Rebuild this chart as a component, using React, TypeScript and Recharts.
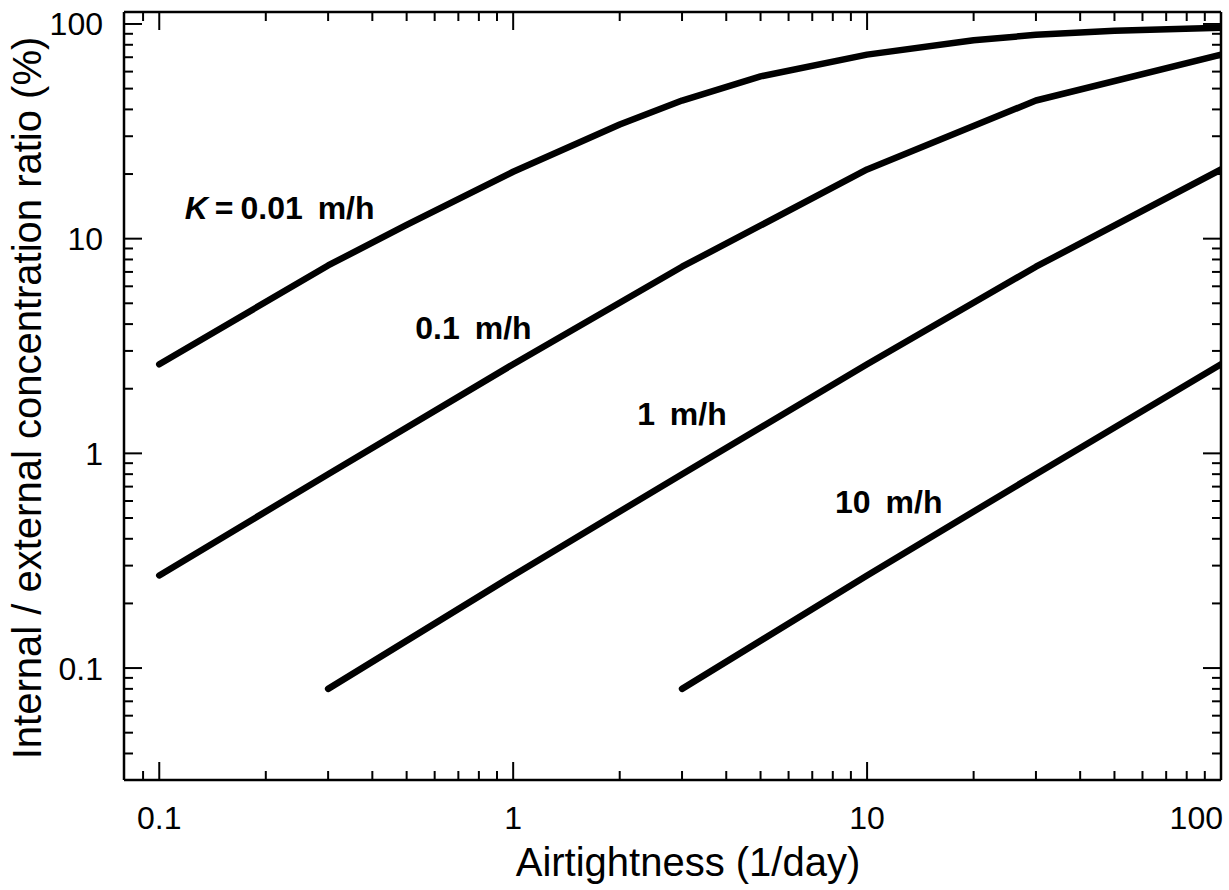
import { LineChart, Line, XAxis, YAxis, ReferenceDot } from "recharts";

// Airtightness (1/day) and internal/external ratio (%)
const airtightnessK001 = [0.1, 0.3, 0.5, 1, 2, 3, 5, 10, 20, 30, 50, 100];
const ratioK001 = [2.6, 7.5, 11.6, 20.5, 34, 44, 57, 72, 84, 89, 93, 96];
const airtightness = [0.1, 0.3, 1, 3, 10, 30, 100];
const ratioK01 = [0.27, 0.8, 2.6, 7.4, 21, 44, 72];
const airtightnessK1 = [0.3, 1, 3, 10, 30, 100];
const ratioK1 = [0.08, 0.27, 0.8, 2.6, 7.4, 21];
const airtightnessK10 = [3, 10, 30, 100];
const ratioK10 = [0.08, 0.27, 0.8, 2.6];

const xMajorTicks = [0.1, 1, 10, 100];
const xMinorTicks = [
  0.09, 0.2, 0.3, 0.4, 0.5, 0.6, 0.7, 0.8, 0.9,
  2, 3, 4, 5, 6, 7, 8, 9,
  20, 30, 40, 50, 60, 70, 80, 90,
];
const yMajorTicks = [0.1, 1, 10, 100];
const yMinorTicks = [
  0.04, 0.05, 0.06, 0.07, 0.08, 0.09,
  0.2, 0.3, 0.4, 0.5, 0.6, 0.7, 0.8, 0.9,
  2, 3, 4, 5, 6, 7, 8, 9,
  20, 30, 40, 50, 60, 70, 80, 90,
];

// curve annotations (anchor = left end of text baseline, in data coords)
const curveLabels = [
  { x: 0.118, y: 12.4, text: "0.01 m/h", withK: true },
  { x: 0.529, y: 3.4, text: "0.1 m/h", withK: false },
  { x: 2.24, y: 1.35, text: "1 m/h", withK: false },
  { x: 8.12, y: 0.525, text: "10 m/h", withK: false },
];

const X_DOMAIN = [0.0795, 100];
const Y_DOMAIN = [0.0301, 113.7];
const FONT = '"Liberation Sans", Arial, Helvetica, sans-serif';

const toPoints = (xs: number[], ys: number[]) => xs.map((x, i) => ({ x, y: ys[i] }));

const series = [
  { key: "k001", data: toPoints(airtightnessK001, ratioK001) },
  { key: "k01", data: toPoints(airtightness, ratioK01) },
  { key: "k1", data: toPoints(airtightnessK1, ratioK1) },
  { key: "k10", data: toPoints(airtightnessK10, ratioK10) },
];

const allXTicks = [...xMajorTicks, ...xMinorTicks].sort((a, b) => a - b);
const allYTicks = [...yMajorTicks, ...yMinorTicks].sort((a, b) => a - b);

const BottomTick = (props: any) => {
  const { x, y, payload } = props;
  const v = payload.value;
  const major = xMajorTicks.includes(v);
  const last = v === 100;
  return (
    <g>
      <line x1={x} y1={y} x2={x} y2={y - (major ? 18 : 9)} stroke="#000" strokeWidth={2} />
      {major && (
        <text
          x={last ? x + 2 : x}
          y={y + 49}
          textAnchor={last ? "end" : "middle"}
          fontSize={32}
          fontFamily={FONT}
          fill="#000"
        >
          {v}
        </text>
      )}
    </g>
  );
};

const TopTick = (props: any) => {
  const { x, y, payload } = props;
  const major = xMajorTicks.includes(payload.value);
  return <line x1={x} y1={y} x2={x} y2={y + (major ? 18 : 9)} stroke="#000" strokeWidth={2} />;
};

const LeftTick = (props: any) => {
  const { x, y, payload } = props;
  const v = payload.value;
  const major = yMajorTicks.includes(v);
  return (
    <g>
      <line x1={x} y1={y} x2={x + (major ? 18 : 9)} y2={y} stroke="#000" strokeWidth={2} />
      {major && (
        <text x={x - 21} y={y + 11.5} textAnchor="end" fontSize={32} fontFamily={FONT} fill="#000">
          {v}
        </text>
      )}
    </g>
  );
};

const RightTick = (props: any) => {
  const { x, y, payload } = props;
  const major = yMajorTicks.includes(payload.value);
  return <line x1={x} y1={y} x2={x - (major ? 18 : 9)} y2={y} stroke="#000" strokeWidth={2} />;
};

const axisLine = { stroke: "#000", strokeWidth: 2.5 };

export default function App() {
  return (
    <div style={{ position: "absolute", left: 0, top: 0, background: "#fff" }}>
      <LineChart width={1229} height={890} margin={{ top: 0, right: 0, bottom: 0, left: 0 }}>
        <XAxis
          xAxisId="b"
          dataKey="x"
          type="number"
          scale="log"
          domain={X_DOMAIN}
          allowDataOverflow
          ticks={allXTicks}
          interval={0}
          height={110}
          tickSize={0}
          tickMargin={0}
          tickLine={false}
          axisLine={axisLine}
          tick={<BottomTick />}
          label={{
            content: () => (
              <text x={688} y={876} textAnchor="middle" fontSize={40} fontFamily={FONT} fill="#000">
                Airtightness (1/day)
              </text>
            ),
          }}
        />
        <XAxis
          xAxisId="t"
          orientation="top"
          dataKey="x"
          type="number"
          scale="log"
          domain={X_DOMAIN}
          allowDataOverflow
          ticks={allXTicks}
          interval={0}
          height={12}
          tickSize={0}
          tickMargin={0}
          tickLine={false}
          axisLine={axisLine}
          tick={<TopTick />}
        />
        <YAxis
          yAxisId="l"
          type="number"
          scale="log"
          domain={Y_DOMAIN}
          allowDataOverflow
          ticks={allYTicks}
          interval={0}
          width={124}
          tickSize={0}
          tickMargin={0}
          tickLine={false}
          axisLine={axisLine}
          tick={<LeftTick />}
          label={{
            content: () => (
              <text
                x={41}
                y={398}
                transform="rotate(-90 41 398)"
                textAnchor="middle"
                fontSize={40}
                fontFamily={FONT}
                fill="#000"
              >
                Internal / external concentration ratio (%)
              </text>
            ),
          }}
        />
        <YAxis
          yAxisId="r"
          orientation="right"
          type="number"
          scale="log"
          domain={Y_DOMAIN}
          allowDataOverflow
          ticks={allYTicks}
          interval={0}
          width={8}
          tickSize={0}
          tickMargin={0}
          tickLine={false}
          axisLine={axisLine}
          tick={<RightTick />}
        />
        {series.map((s) => (
          <Line
            key={s.key}
            xAxisId="b"
            yAxisId="l"
            data={s.data}
            dataKey="y"
            type="linear"
            stroke="#000"
            strokeWidth={6.5}
            strokeLinecap="round"
            strokeLinejoin="round"
            dot={false}
            activeDot={false}
            isAnimationActive={false}
          />
        ))}
        {curveLabels.map((c) => (
          <ReferenceDot
            key={c.text}
            xAxisId="b"
            yAxisId="l"
            x={c.x}
            y={c.y}
            r={0}
            shape={(p: any) => (
              <text x={p.cx} y={p.cy} fontSize={32} fontWeight="bold" fontFamily={FONT} fill="#000">
                {c.withK && <tspan fontStyle="italic">K</tspan>}
                {c.withK && <tspan dx={7}>=</tspan>}
                <tspan dx={c.withK ? 7 : 0}>{c.text.split(" ")[0]}</tspan>
                <tspan dx={6}> {c.text.split(" ")[1]}</tspan>
              </text>
            )}
          />
        ))}
      </LineChart>
    </div>
  );
}
